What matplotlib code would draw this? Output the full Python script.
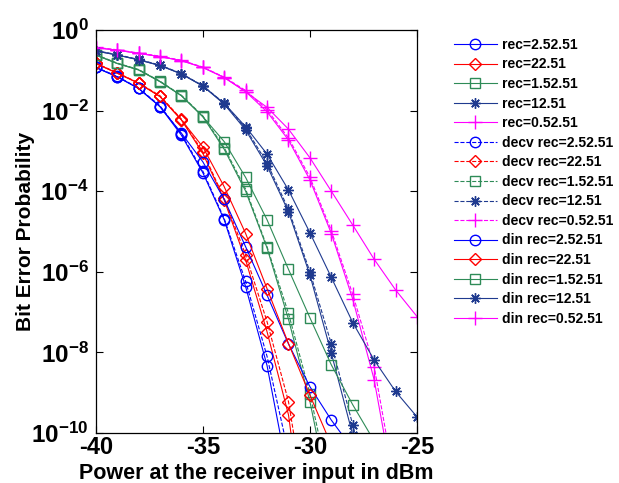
import numpy as np
import matplotlib
matplotlib.use("Agg")
import matplotlib.pyplot as plt

plt.rcParams['font.family'] = ['Liberation Sans', 'DejaVu Sans']
plt.rcParams['mathtext.fontset'] = 'custom'
plt.rcParams['mathtext.rm'] = 'Liberation Sans:bold'
plt.rcParams['mathtext.bf'] = 'Liberation Sans:bold'
plt.rcParams['mathtext.default'] = 'bf'

# received power (dBm), one point per dBm starting at -40
x_start = -40

# log10 of bit error probability
rec_log = {
    "2.5": [-0.93, -1.16, -1.45, -1.90, -2.61, -3.54, -4.71, -6.37, -8.33, -11.1],
    "2":   [-0.83, -1.07, -1.32, -1.65, -2.23, -3.06, -4.22, -5.71, -7.49, -9.55, -13.5],
    "1.5": [-0.62, -0.83, -0.99, -1.28, -1.63, -2.15, -2.96, -4.00, -5.41, -7.18, -9.22, -11.8],
    "1":   [-0.52, -0.62, -0.74, -0.88, -1.09, -1.39, -1.84, -2.48, -3.37, -4.51, -6.08, -8.02, -10.05, -12.3],
    "0.5": [-0.44, -0.50, -0.58, -0.66, -0.76, -0.93, -1.18, -1.53, -2.03, -2.73, -3.72, -5.05, -6.68, -8.68, -11.6],
}
decv_log = {
    "2.5": [-0.92, -1.15, -1.44, -1.88, -2.58, -3.50, -4.68, -6.24, -8.10, -10.5],
    "2":   [-0.82, -1.06, -1.31, -1.63, -2.21, -3.02, -4.18, -5.58, -7.24, -9.22, -12.5],
    "1.5": [-0.61, -0.82, -0.98, -1.27, -1.62, -2.13, -2.92, -3.95, -5.38, -7.03, -9.02, -11.5],
    "1":   [-0.51, -0.61, -0.73, -0.87, -1.08, -1.38, -1.82, -2.44, -3.30, -4.45, -6.00, -7.79, -9.80, -12.0],
    "0.5": [-0.43, -0.49, -0.57, -0.65, -0.75, -0.92, -1.17, -1.50, -1.98, -2.68, -3.65, -4.98, -6.56, -8.35, -11.35],
}
din_log = {
    "2.5": [-0.93, -1.16, -1.45, -1.90, -2.56, -3.27, -4.20, -5.38, -6.58, -7.79, -8.85, -9.68, -10.4],
    "2":   [-0.83, -1.07, -1.32, -1.65, -2.23, -2.90, -3.89, -5.05, -6.42, -7.78, -9.06, -10.3],
    "1.5": [-0.62, -0.83, -0.99, -1.28, -1.63, -2.15, -2.77, -3.66, -4.71, -5.94, -7.14, -8.31, -9.30, -10.2],
    "1":   [-0.52, -0.62, -0.74, -0.88, -1.09, -1.39, -1.82, -2.40, -3.08, -3.97, -5.03, -6.14, -7.26, -8.19, -8.97, -9.60],
    "0.5": [-0.44, -0.50, -0.58, -0.66, -0.76, -0.93, -1.18, -1.53, -1.92, -2.46, -3.17, -4.00, -4.84, -5.69, -6.45, -7.11],
}

rec_values = ["2.5", "2", "1.5", "1", "0.5"]
colors = {"2.5": "#0000ff", "2": "#ff0000", "1.5": "#2e8b57", "1": "#1f3a8f", "0.5": "#ff00ff"}
markers = {"2.5": "o", "2": "D", "1.5": "s", "1": (8, 2, 0), "0.5": "+"}
msizes = {"2.5": 7.5, "2": 6.5, "1.5": 7.5, "1": 7.5, "0.5": 10}

fig = plt.figure(figsize=(6.19, 4.83), dpi=100)
ax = fig.add_axes([0.1546, 0.1035, 0.5191, 0.8344])

def draw(data, ls, prefix):
    for r in rec_values:
        vals = np.array(data[r])
        xs = x_start + np.arange(len(vals))
        ax.plot(xs, 10.0 ** vals, linestyle=ls, color=colors[r], marker=markers[r],
                markersize=msizes[r], markerfacecolor='none', markeredgecolor=colors[r],
                markeredgewidth=1.0, linewidth=0.8,
                label=f"{prefix}rec={r}2.51")

draw(rec_log, '-', "")
draw(decv_log, '--', "decv ")
draw(din_log, '-', "din ")

ax.set_yscale('log')
ax.set_xlim(-40, -25)
ax.set_ylim(1e-10, 1)
ax.set_xticks([-40, -35, -30, -25])
ax.set_xticklabels(["-40", "-35", "-30", "-25"])
yt = [1e0, 1e-2, 1e-4, 1e-6, 1e-8, 1e-10]
ax.set_yticks(yt)
ax.set_yticklabels([r"$\mathbf{10^{%d}}$" % int(round(np.log10(v))) for v in yt])
ax.yaxis.set_minor_locator(matplotlib.ticker.NullLocator())
ax.tick_params(direction='in', top=True, right=True, length=5, width=0.8)
ax.tick_params(axis='x', labelsize=17, pad=2)
ax.tick_params(axis='y', labelsize=17.5, pad=5)
for lab in ax.get_xticklabels():
    lab.set_fontweight('bold')
for s in ax.spines.values():
    s.set_linewidth(0.9)

ax.set_xlabel("Power at the receiver input in dBm", fontsize=15.5, fontweight='bold', labelpad=3)
ax.set_ylabel("Bit Error Probability", fontsize=15, fontweight='bold')
ax.yaxis.set_label_coords(-0.19, 0.5)

leg = ax.legend(loc='upper left', bbox_to_anchor=(447 / 619, 1 - 31 / 483),
                bbox_transform=fig.transFigure, frameon=False, borderpad=0,
                handlelength=3.1, handletextpad=0.35, labelspacing=0.40,
                prop={'weight': 'bold', 'size': 10})

fig.savefig("out.png", dpi=100)
